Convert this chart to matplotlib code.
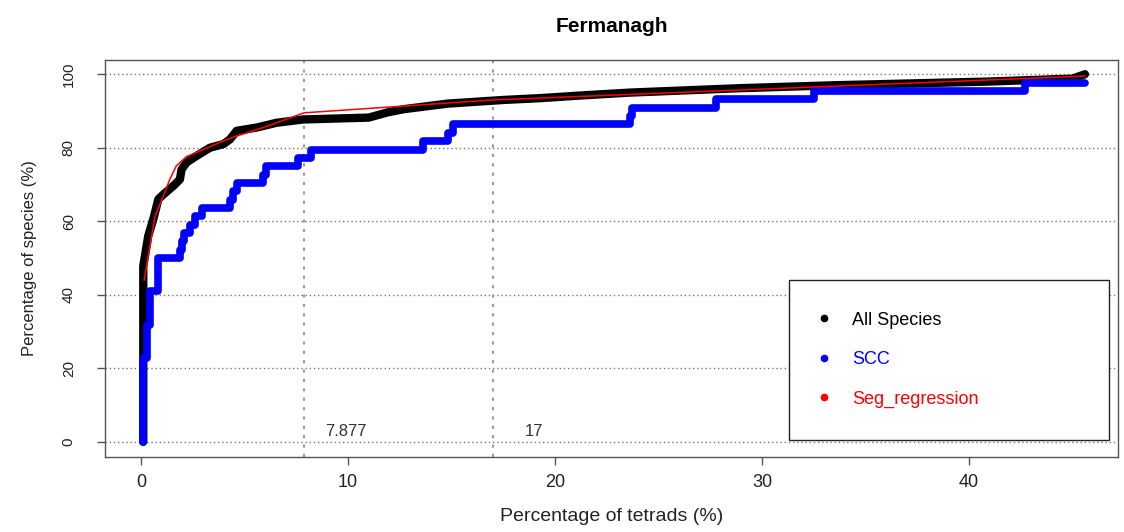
import matplotlib
matplotlib.use("Agg")
import matplotlib.pyplot as plt
from matplotlib.lines import Line2D

plt.rcParams['font.family'] = ['Liberation Sans', 'DejaVu Sans']

# All species (cumulative % of species vs % of tetrads)
all_x = [0.11, 0.11, 0.35, 0.59, 0.84, 1.08, 1.56, 1.88, 1.96, 2.2, 2.69, 3.33,
         3.98, 4.3, 4.62, 5.59, 6.55, 7.84, 9.1, 11.0, 11.9, 12.7, 14.8, 17.5,
         19.3, 21.2, 23.6, 28.9, 33.5, 40.9, 45.0, 45.6]
all_y = [0, 47.8, 56, 60.5, 66, 67.3, 69.6, 71.4, 74.1, 76, 77.8, 80,
         81, 82.3, 84.6, 85.5, 86.8, 87.7, 87.9, 88.2, 89.6, 90.5, 92.0, 93.0,
         93.5, 94.2, 95.0, 96.2, 97.0, 98.0, 98.8, 100]

# SCC species: step curve (x where each new level starts)
scc_x = [0.11, 0.11, 0.27, 0.43, 0.80, 1.88, 2.00, 2.10, 2.35, 2.60, 2.93, 4.30,
         4.45, 4.62, 5.90, 6.05, 7.60, 8.20, 13.64, 14.85, 15.09, 23.6, 23.7,
         27.8, 32.5, 42.7, 45.6]
scc_y = [0, 22.7, 31.8, 40.9, 50.0, 52.3, 54.5, 56.8, 59.1, 61.4, 63.6, 65.9,
         68.2, 70.5, 72.7, 75.0, 77.3, 79.5, 81.8, 84.1, 86.4, 88.6, 90.9,
         93.2, 95.5, 97.7, 97.7]

# Segmented regression fit
seg_x = [0.15, 0.68, 1.08, 1.4, 1.7, 2.2, 3.33, 4.3, 5.91, 7.877, 17.0, 45.6]
seg_y = [44, 61.4, 66.9, 71.5, 75.0, 77.6, 80.3, 82.6, 85.5, 89.5, 93.0, 99.5]

# breakpoints
breaks = [7.877, 17]
break_labels = ["7.877", "17"]

series_names = ["All Species", "SCC", "Seg_regression"]
series_colors = ["black", "blue", "red"]

fig = plt.figure(figsize=(11.24, 5.32), dpi=100)
ax = fig.add_axes([0.0934, 0.1419, 0.9013, 0.7462])

ax.plot(all_x, all_y, color="black", lw=6, solid_joinstyle="round",
        solid_capstyle="round", zorder=3)
ax.step(scc_x, scc_y, where="post", color="blue", lw=5.5,
        solid_capstyle="round", zorder=4)
ax.plot(seg_x, seg_y, color="red", lw=1.1, zorder=5)

for b, lab in zip(breaks, break_labels):
    ax.axvline(b, color="#9a9a9a", ls=(0, (1.5, 3)), lw=1.5, zorder=1)
    ax.text(b + 2, 2.8, lab, ha="center", va="center", fontsize=12, color="#333333")

ax.set_xlim(-1.74, 47.2)
ax.set_ylim(-4, 104)
ax.set_xticks([0, 10, 20, 30, 40])
ax.set_yticks([0, 20, 40, 60, 80, 100])
ax.yaxis.grid(True, ls=(0, (1, 2)), color="#777777", lw=1)
ax.set_axisbelow(True)

for s in ax.spines.values():
    s.set_color("#555555")
    s.set_linewidth(1)

ax.tick_params(axis="x", length=6, width=1, color="#555555", pad=6.8,
               labelsize=13, labelcolor="#222222")
ax.tick_params(axis="y", length=6, width=1, color="#555555", pad=15,
               labelsize=11, labelcolor="#222222", labelrotation=90)
for lab in ax.get_yticklabels():
    lab.set_va("center")

ax.set_xlabel("Percentage of tetrads (%)", fontsize=14, color="#222222")
ax.xaxis.set_label_coords(0.5, -0.15)
ax.xaxis.label.set_va("center")
ax.set_ylabel("Percentage of species (%)", fontsize=12, color="#222222")
ax.yaxis.set_label_coords(-0.0745, 0.5)
ax.yaxis.label.set_va("center")

ax.set_title("Fermanagh", fontsize=15, fontweight="bold", y=1.082, pad=0, va="center")

handles = [Line2D([], [], ls="none", marker="o", ms=4.5, color=c) for c in series_colors]
leg = ax.legend(handles, series_names, loc="upper left",
                bbox_to_anchor=(0.675, 0.0416, 0.316, 0.403), mode="expand",
                borderaxespad=0, fontsize=13, borderpad=1.75, labelspacing=1.25,
                handlelength=0.4, handletextpad=1.35, fancybox=False,
                edgecolor="#222222", framealpha=1, labelcolor=series_colors)
leg.get_frame().set_linewidth(1)

fig.savefig("out.png", dpi=100)
